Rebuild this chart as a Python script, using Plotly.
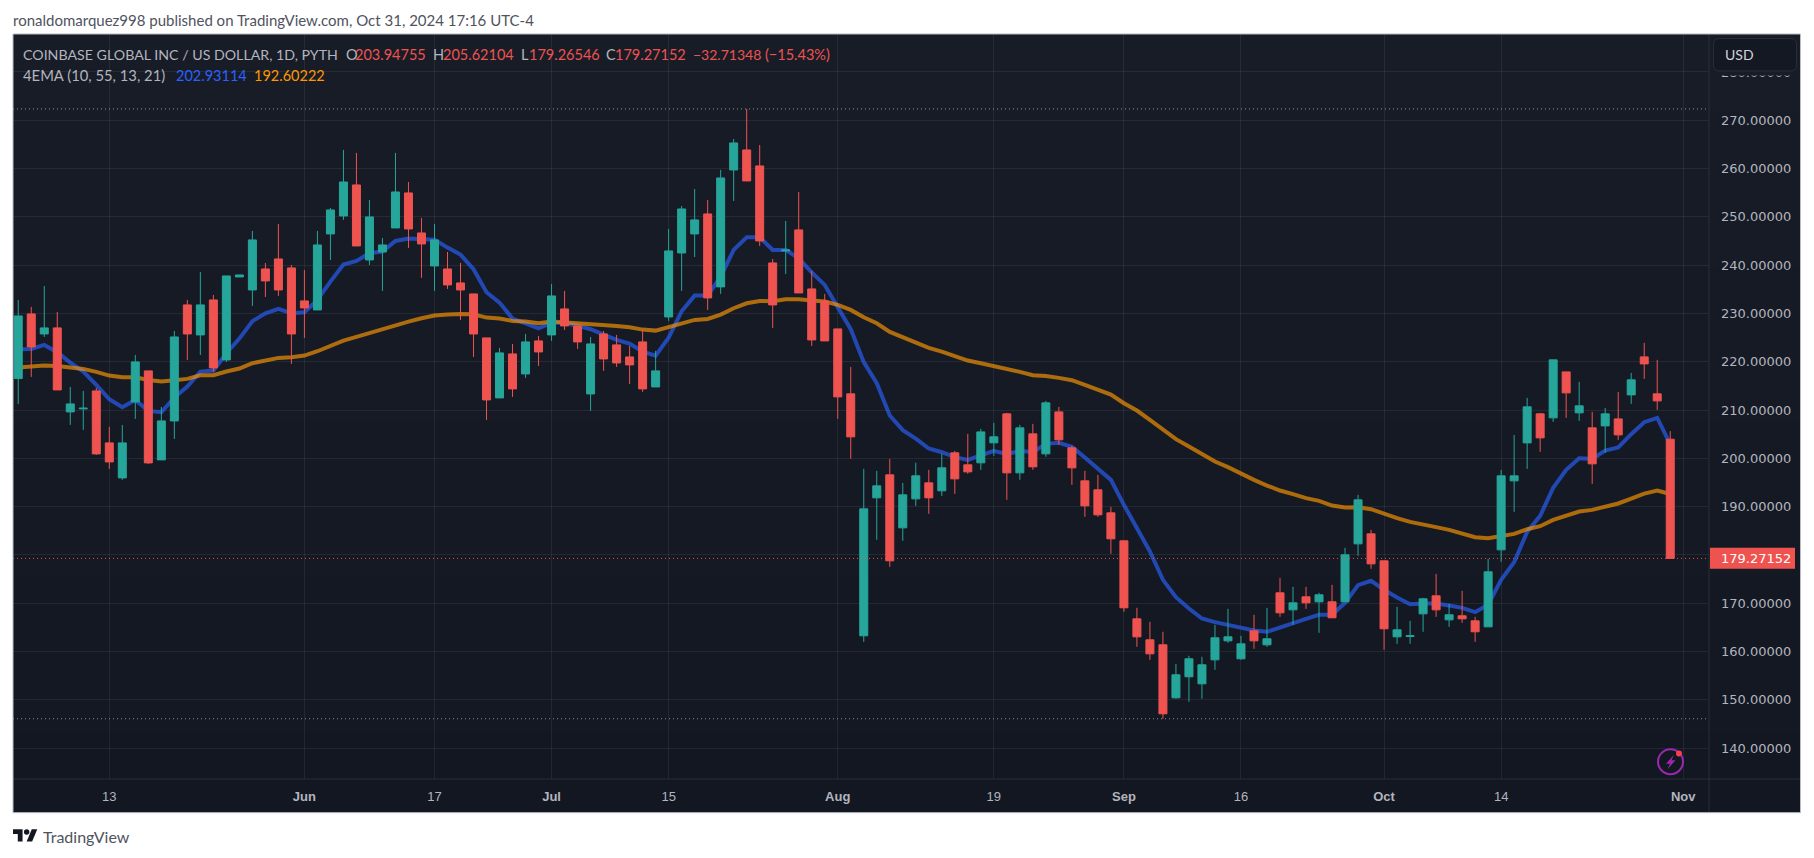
import base64
import struct
import zlib

import plotly.graph_objects as go

# ---------- data ----------
session_index = list(range(128))
tick_sessions = [7, 22, 32, 41, 50, 63, 75, 85, 94, 105, 114, 128]
tick_labels = ["13", "<b>Jun</b>", "17", "<b>Jul</b>", "15", "<b>Aug</b>", "19", "<b>Sep</b>", "16", "<b>Oct</b>", "14", "<b>Nov</b>"]
price_ticks = [140, 150, 160, 170, 180, 190, 200, 210, 220, 230, 240, 250, 260, 270, 280]

open_values = [
    216.51, 229.90, 225.75, 227.00, 209.61, 210.23, 213.95, 203.19, 195.94, 211.68, 218.10, 199.67, 207.74, 231.76, 225.55, 232.79,
    220.37, 237.55, 234.86, 239.21, 241.28, 239.42, 232.59, 230.72, 246.46, 250.18, 256.60, 241.07, 242.73, 247.70, 254.95, 246.66,
    239.83, 239.21, 236.31, 234.04, 224.93, 212.50, 221.61, 217.47, 224.31, 225.55, 230.93, 227.41, 213.33, 225.75, 223.48, 220.99,
    224.10, 214.78, 229.27, 242.52, 246.46, 250.60, 235.49, 259.71, 263.85, 260.54, 240.45, 242.94, 247.29, 235.07, 232.59, 226.79,
    213.34, 163.24, 191.81, 196.57, 185.60, 191.60, 194.92, 193.26, 201.13, 198.64, 199.06, 203.20, 209.20, 196.99, 205.06, 200.92,
    209.61, 202.16, 195.33, 193.47, 188.70, 182.91, 166.76, 162.41, 161.38, 150.40, 154.75, 153.30, 158.27, 162.20, 158.48, 164.27,
    161.37, 172.14, 168.62, 171.31, 170.28, 170.28, 170.28, 182.28, 184.35, 178.77, 163.03, 163.10, 167.79, 171.52, 166.55, 167.38,
    166.34, 165.10, 181.04, 195.33, 203.19, 209.20, 208.37, 217.89, 209.41, 206.30, 206.71, 208.16, 213.13, 221.00, 213.34, 203.95,
]
high_values = [
    232.79, 231.34, 235.69, 230.31, 214.78, 213.95, 214.57, 206.50, 206.92, 221.41, 218.10, 210.64, 226.38, 232.79, 238.59, 233.83,
    237.76, 237.97, 247.08, 240.45, 248.53, 240.04, 239.00, 247.08, 251.84, 263.85, 263.23, 253.50, 245.63, 263.23, 257.22, 249.77,
    248.53, 242.73, 240.45, 234.04, 224.93, 222.86, 223.68, 225.75, 225.34, 236.11, 234.66, 227.41, 225.13, 226.38, 225.55, 223.27,
    226.79, 222.24, 247.49, 252.25, 255.77, 253.50, 259.71, 266.13, 272.34, 264.88, 241.28, 249.15, 255.15, 238.80, 234.04, 226.79,
    218.93, 197.81, 197.40, 199.88, 194.92, 199.06, 197.61, 200.92, 201.54, 205.06, 206.10, 207.34, 209.41, 206.92, 207.13, 211.89,
    210.65, 202.58, 197.40, 196.57, 189.95, 182.91, 169.04, 166.14, 164.07, 157.44, 159.10, 158.89, 165.52, 168.83, 163.24, 167.59,
    169.03, 175.25, 173.38, 173.38, 172.14, 173.80, 181.46, 192.43, 185.18, 178.77, 169.24, 166.34, 171.10, 176.07, 169.86, 172.55,
    167.17, 179.18, 197.61, 204.85, 212.51, 209.41, 220.38, 217.89, 215.82, 209.61, 210.44, 213.75, 217.69, 223.90, 220.38, 205.62,
]
low_values = [
    211.26, 216.85, 225.13, 214.16, 206.92, 205.88, 200.70, 197.81, 195.53, 208.16, 198.84, 199.67, 204.02, 220.37, 221.41, 217.89,
    219.96, 237.55, 231.55, 233.41, 233.62, 219.54, 224.93, 230.72, 241.07, 249.36, 243.97, 240.04, 234.66, 247.70, 243.56, 237.35,
    234.66, 235.07, 228.65, 220.99, 207.95, 212.50, 212.71, 216.64, 219.13, 224.31, 226.58, 222.65, 209.81, 218.10, 218.92, 215.40,
    213.75, 214.78, 228.45, 234.66, 241.70, 230.72, 234.04, 253.29, 257.43, 243.97, 227.00, 238.18, 234.24, 223.27, 224.31, 208.16,
    199.88, 161.98, 183.12, 177.53, 182.91, 190.15, 188.50, 192.22, 192.64, 196.78, 197.61, 200.51, 191.40, 195.54, 197.61, 200.30,
    202.78, 194.50, 187.88, 187.88, 180.22, 168.21, 160.96, 158.27, 146.06, 150.20, 149.58, 150.20, 156.20, 161.79, 158.27, 160.55,
    160.96, 167.17, 165.51, 168.83, 163.86, 166.97, 170.28, 179.80, 177.11, 160.34, 161.58, 161.58, 164.07, 167.17, 165.10, 165.93,
    161.99, 165.10, 178.56, 188.91, 197.81, 201.33, 207.54, 208.37, 207.75, 194.71, 201.13, 203.82, 211.27, 216.45, 210.03, 179.27,
]
close_values = [
    229.48, 223.06, 227.00, 214.16, 211.26, 210.37, 200.91, 199.25, 203.19, 219.96, 199.05, 207.74, 225.13, 225.75, 231.76, 218.72,
    237.76, 237.97, 245.22, 236.73, 234.86, 225.75, 231.14, 244.18, 251.43, 257.22, 243.97, 249.98, 244.18, 255.15, 247.49, 244.39,
    245.22, 235.90, 234.86, 225.75, 212.09, 221.82, 214.37, 224.10, 222.03, 233.62, 227.41, 224.10, 223.68, 220.58, 219.75, 219.34,
    214.37, 218.10, 242.94, 251.63, 249.36, 233.21, 258.05, 265.30, 257.43, 245.01, 231.76, 243.15, 234.24, 224.51, 224.31, 212.72,
    204.44, 189.53, 194.29, 178.77, 192.43, 196.37, 191.81, 198.02, 195.74, 197.19, 205.47, 204.44, 196.99, 206.30, 198.23, 211.48,
    203.82, 198.02, 190.15, 188.29, 183.32, 169.04, 163.03, 159.51, 147.09, 155.17, 158.48, 157.24, 162.83, 163.03, 161.58, 162.20,
    162.62, 168.00, 170.07, 170.07, 171.73, 166.97, 180.01, 191.39, 178.14, 164.69, 164.48, 163.24, 170.90, 168.62, 167.59, 166.76,
    164.07, 176.49, 196.36, 196.36, 210.65, 204.23, 220.38, 213.55, 210.86, 198.85, 209.20, 204.85, 216.24, 219.55, 211.89, 179.27,
]
ema_fast = [
    222.58, 222.65, 223.48, 221.96, 219.82, 217.96, 215.20, 212.23, 210.57, 212.09, 209.81, 209.54, 212.57, 214.85, 217.96, 218.16,
    221.75, 224.79, 228.38, 230.03, 230.93, 230.03, 230.24, 232.79, 236.59, 240.11, 240.87, 242.46, 242.80, 245.01, 245.49, 245.42,
    245.28, 243.63, 242.18, 239.14, 234.38, 232.24, 228.93, 227.96, 226.93, 228.10, 227.96, 227.48, 226.72, 225.62, 224.51, 223.75,
    222.10, 221.27, 224.99, 230.45, 233.69, 233.69, 237.62, 243.15, 245.77, 245.77, 243.15, 243.15, 241.42, 238.50, 235.90, 231.28,
    226.73, 219.91, 215.55, 208.85, 205.82, 204.09, 202.02, 201.26, 200.23, 199.67, 200.71, 201.54, 200.85, 201.54, 201.26, 202.99,
    203.20, 202.37, 200.16, 197.95, 195.53, 190.36, 185.53, 180.70, 174.83, 171.24, 168.90, 166.83, 166.07, 165.52, 164.76, 164.34,
    164.07, 165.03, 166.00, 166.76, 167.59, 167.59, 170.07, 173.73, 174.63, 172.76, 171.17, 169.79, 169.93, 169.93, 169.52, 169.03,
    168.14, 169.66, 174.83, 178.49, 184.77, 188.08, 193.88, 197.61, 200.02, 199.88, 201.61, 202.23, 204.99, 207.47, 208.37, 202.93,
]
ema_slow = [
    218.78, 218.99, 219.20, 219.13, 218.85, 218.51, 217.89, 217.13, 216.78, 216.78, 216.23, 215.89, 216.16, 216.44, 217.20, 217.20,
    217.96, 218.58, 219.68, 220.30, 220.79, 220.92, 221.27, 222.17, 223.27, 224.37, 225.13, 225.96, 226.65, 227.69, 228.31, 229.00,
    229.55, 229.76, 229.90, 229.83, 229.14, 228.93, 228.45, 228.31, 227.96, 228.31, 228.17, 228.03, 227.89, 227.62, 227.41, 227.13,
    226.65, 226.44, 227.20, 227.89, 228.65, 228.86, 229.76, 231.07, 232.10, 232.59, 232.52, 232.93, 232.93, 232.66, 232.45, 231.76,
    230.73, 229.21, 227.97, 226.17, 225.00, 224.03, 222.86, 222.10, 221.07, 220.24, 219.69, 219.13, 218.38, 217.89, 217.20, 217.06,
    216.65, 216.17, 215.20, 214.30, 213.20, 211.41, 209.89, 207.96, 205.89, 203.96, 202.44, 200.92, 199.33, 198.16, 196.78, 195.53,
    194.36, 193.33, 192.57, 191.74, 191.19, 190.22, 189.81, 189.88, 189.46, 188.50, 187.60, 186.84, 186.36, 185.74, 185.18, 184.49,
    183.66, 183.46, 183.87, 184.35, 185.32, 185.94, 187.25, 188.22, 188.98, 189.32, 190.01, 190.64, 191.67, 192.70, 193.33, 192.60,
]

header_text = "ronaldomarquez998 published on TradingView.com, Oct 31, 2024 17:16 UTC-4"
legend_row_one = [
    (23, "COINBASE GLOBAL INC / US DOLLAR, 1D, PYTH", "#b2b5be", 14.2),
    (345.5, "O", "#b2b5be", 14.5), (355, "203.94755", "#ef5350", 14.5),
    (433, "H", "#b2b5be", 14.5), (443, "205.62104", "#ef5350", 14.5),
    (521, "L", "#b2b5be", 14.5), (529, "179.26546", "#ef5350", 14.5),
    (606, "C", "#b2b5be", 14.5), (615, "179.27152", "#ef5350", 14.5),
    (693, "\u221232.71348", "#ef5350", 14), (765, "(\u221215.43%)", "#ef5350", 14.5),
]
legend_row_two = [
    (23, "4EMA (10, 55, 13, 21)", "#b2b5be", 14.8),
    (176, "202.93114", "#2962ff", 14.5),
    (254, "192.60222", "#ff9800", 14.5),
]
last_price_label = "179.27152"

# ---------- page geometry (pixels) ----------
W, H = 1814, 858
LEFT, RIGHT, TOP, BOTTOM = 13, 1709, 34, 779.3
FRAME_R, FRAME_B = 1800.5, 813
UI_FONT = "Lato"
TICK_FONT = "DejaVu Sans"


def px(x):
    return (x - LEFT) / (RIGHT - LEFT)


def py(y):
    return (BOTTOM - y) / (BOTTOM - TOP)


def gradient_png(top, bottom, rows=256, cols=4):
    raw = b""
    for r in range(rows):
        t = r / (rows - 1)
        pix = bytes(round(a + (b - a) * t) for a, b in zip(top, bottom))
        raw += b"\x00" + pix * cols

    def chunk(tag, data):
        return struct.pack(">I", len(data)) + tag + data + struct.pack(">I", zlib.crc32(tag + data))

    png = b"\x89PNG\r\n\x1a\n" + chunk(b"IHDR", struct.pack(">IIBBBBB", cols, rows, 8, 2, 0, 0, 0))
    png += chunk(b"IDAT", zlib.compress(raw)) + chunk(b"IEND", b"")
    return "data:image/png;base64," + base64.b64encode(png).decode()


x_range = [-0.403, 129.98]
y_range = [133.59, 287.86]

fig = go.Figure()
fig.add_trace(go.Scatter(x=session_index, y=ema_fast, mode="lines", name="EMA fast",
                         line=dict(color="rgba(41,98,255,0.65)", width=4), hoverinfo="skip"))
fig.add_trace(go.Scatter(x=session_index, y=ema_slow, mode="lines", name="EMA slow",
                         line=dict(color="rgba(255,152,0,0.65)", width=4), hoverinfo="skip"))
fig.add_trace(go.Candlestick(
    x=session_index, open=open_values, high=high_values, low=low_values, close=close_values,
    xaxis="x2", yaxis="y2", whiskerwidth=0,
    increasing=dict(line=dict(color="#26a69a", width=1), fillcolor="#26a69a"),
    decreasing=dict(line=dict(color="#ef5350", width=1), fillcolor="#ef5350"),
))

GRID = "rgba(240,243,250,0.07)"


def text(x, y, s, color, size, family=UI_FONT, anchor="left"):
    return dict(xref="paper", yref="paper", x=px(x), y=py(y), text=s, showarrow=False,
                xanchor=anchor, yanchor="middle", xshift=0,
                font=dict(color=color, size=size, family=family), borderpad=0, borderwidth=0)


annotations = [text(12.6, 20, header_text, "#50535e", 15)]
annotations += [text(x, 54.5, s, c, z) for x, s, c, z in legend_row_one]
annotations += [text(x, 75.5, s, c, z) for x, s, c, z in legend_row_two]
annotations += [text(1725, 54.5, "USD", "#d1d4dc", 14)]
annotations += [text(1755.5, 558.5, last_price_label, "#ffffff", 13, TICK_FONT, "center")]
annotations += [text(43.3, 836.5, "TradingView", "#50535e", 16)]


def prect(x0, y0, x1, y1, **kw):
    return dict(type="rect", xref="paper", yref="paper", x0=px(x0), x1=px(x1), y0=py(y0), y1=py(y1), **kw)


def pline(x0, y0, x1, y1, color, width=1):
    return dict(type="line", xref="paper", yref="paper", x0=px(x0), x1=px(x1), y0=py(y0), y1=py(y1),
                line=dict(color=color, width=width))


def ppath(points, fill, extra=""):
    d = ""
    for i, (x, y) in enumerate(points):
        d += ("M" if i == 0 else "L") + f"{px(x):.5f},{py(y):.5f}"
    return dict(type="path", xref="paper", yref="paper", path=d + "Z", fillcolor=fill, line=dict(width=0))


def logo(x, y):
    return (13 + x * 0.683, 829.5 + (y - 4) * 0.683)


def rounded(x0, y0, x1, y1, r):
    a, b, c, d = px(x0), px(x1), py(y0), py(y1)
    rx, ry = r / (RIGHT - LEFT), r / (BOTTOM - TOP)
    return (f"M{a+rx:.5f},{c:.5f}L{b-rx:.5f},{c:.5f}Q{b:.5f},{c:.5f} {b:.5f},{c-ry:.5f}"
            f"L{b:.5f},{d+ry:.5f}Q{b:.5f},{d:.5f} {b-rx:.5f},{d:.5f}L{a+rx:.5f},{d:.5f}"
            f"Q{a:.5f},{d:.5f} {a:.5f},{d+ry:.5f}L{a:.5f},{c-ry:.5f}Q{a:.5f},{c:.5f} {a+rx:.5f},{c:.5f}Z")


shapes = [
    dict(type="line", xref="paper", yref="y", x0=0, x1=1, y0=max(high_values), y1=max(high_values),
         line=dict(color="rgba(178,181,190,0.75)", width=1, dash="1px,3px")),
    dict(type="line", xref="paper", yref="y", x0=0, x1=1, y0=min(low_values), y1=min(low_values),
         line=dict(color="rgba(178,181,190,0.75)", width=1, dash="1px,3px")),
    dict(type="line", xref="paper", yref="y", x0=0, x1=1, y0=close_values[-1], y1=close_values[-1],
         line=dict(color="#ef5350", width=1, dash="1px,3px")),
    pline(RIGHT, TOP, RIGHT, FRAME_B, "#2a2e39"),
    pline(LEFT, BOTTOM, FRAME_R, BOTTOM, "#2a2e39"),
    prect(1713, 71, 1797, 75.5, fillcolor="#181c27", line=dict(width=0)),
    dict(type="path", xref="paper", yref="paper", path=rounded(1713.5, 38.5, 1796.5, 71, 6),
         fillcolor="#141823", line=dict(color="#2a2e39", width=1)),
    prect(1710, 548, 1795, 569, fillcolor="#ef5350", line=dict(width=0)),
    prect(LEFT, TOP, FRAME_R, FRAME_B, line=dict(color="#b9bbc6", width=1)),
    dict(type="circle", xref="paper", yref="paper", x0=px(1658), x1=px(1683), y0=py(749.5), y1=py(774.5),
         line=dict(color="#9c27b0", width=2)),
    dict(type="circle", xref="paper", yref="paper", x0=px(1676), x1=px(1682), y0=py(750.7), y1=py(756.7),
         fillcolor="#f7404f", line=dict(width=0)),
    ppath([(1674, 755), (1666, 764), (1670, 764), (1667.5, 769.5), (1675.5, 760.5), (1671.5, 760.5)], "#9c27b0"),
    ppath([logo(14, 22), logo(7, 22), logo(7, 11), logo(0, 11), logo(0, 4), logo(14, 4)], "#131722"),
    ppath([logo(28, 22), logo(20, 22), logo(27.5, 4), logo(35.5, 4)], "#131722"),
    dict(type="circle", xref="paper", yref="paper", x0=px(logo(16, 0)[0]), x1=px(logo(24, 0)[0]),
         y0=py(logo(0, 4)[1]), y1=py(logo(0, 12)[1]), fillcolor="#131722", line=dict(width=0)),
]

fig.update_layout(
    width=W, height=H, autosize=False,
    margin=dict(l=LEFT, r=W - RIGHT, t=TOP, b=H - BOTTOM, pad=0),
    paper_bgcolor="#ffffff", plot_bgcolor="rgba(0,0,0,0)",
    showlegend=False, boxgap=0.385, boxgroupgap=0, hovermode=False,
    xaxis=dict(range=x_range, tickmode="array", tickvals=tick_sessions, ticktext=tick_labels,
               showgrid=True, gridcolor=GRID, gridwidth=1, zeroline=False, showline=False,
               ticks="", ticklabelstandoff=8,
               tickfont=dict(family="Liberation Sans", size=13, color="#b2b5be"), tickangle=0, fixedrange=True),
    yaxis=dict(range=y_range, side="right", tickmode="array", tickvals=price_ticks,
               ticktext=[f"{v:.5f}" for v in price_ticks], showgrid=True, gridcolor=GRID, gridwidth=1,
               zeroline=False, showline=False, ticks="", ticklabelstandoff=11,
               tickfont=dict(family=TICK_FONT, size=13, color="#b2b5be"), fixedrange=True),
    xaxis2=dict(range=x_range, overlaying="x", anchor="y2", visible=False,
                rangeslider=dict(visible=False), fixedrange=True),
    yaxis2=dict(range=y_range, overlaying="y", anchor="x2", side="right", visible=False, fixedrange=True),
    annotations=annotations,
    shapes=shapes,
    images=[dict(source=gradient_png((24, 28, 39), (19, 23, 34)), xref="paper", yref="paper",
                 x=px(LEFT), y=py(TOP), sizex=px(FRAME_R) - px(LEFT), sizey=py(TOP) - py(FRAME_B),
                 xanchor="left", yanchor="top", sizing="stretch", layer="below")],
)

fig.write_html("out.html", config=dict(displayModeBar=False),
               post_script="document.body.style.margin='0';document.body.style.overflow='hidden';")
